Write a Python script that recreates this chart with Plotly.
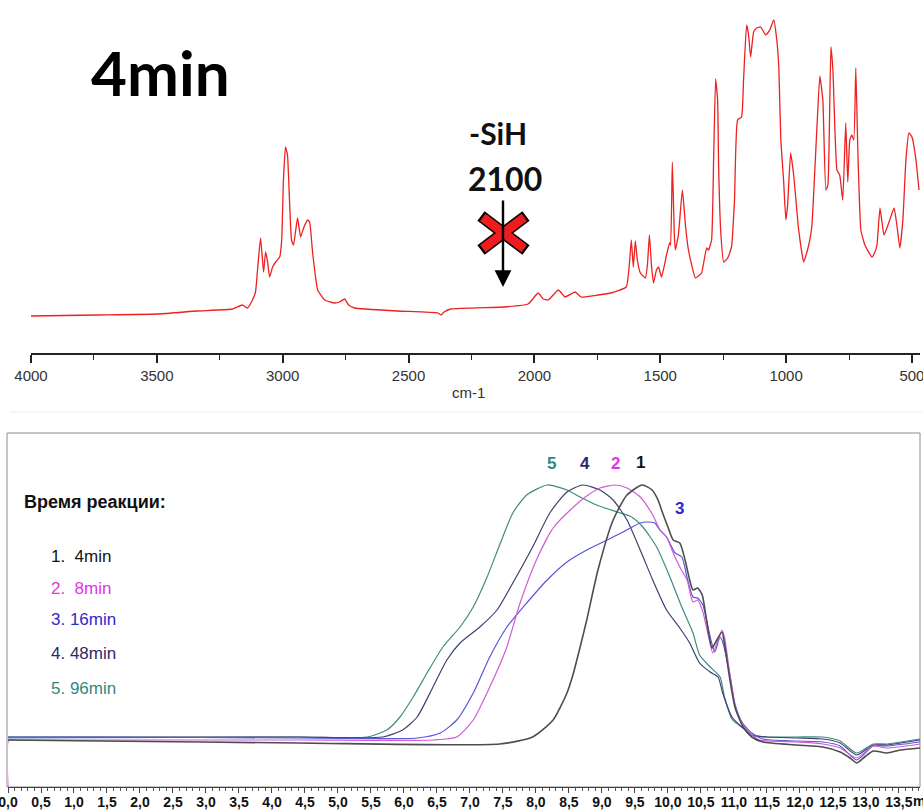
import plotly.graph_objects as go

W, H = 923, 812

# ---------------- IR spectrum (top panel) ----------------
ir_wavenumber = [
    4000, 3737, 3498, 3339, 3200, 3160, 3140, 3120, 3108, 3100,
    3088, 3076, 3068, 3060, 3052, 3040, 3028, 3012, 3004, 2997,
    2989, 2981, 2973, 2965, 2957, 2941, 2929, 2917, 2901, 2893,
    2881, 2861, 2833, 2793, 2774, 2754, 2738, 2714, 2543, 2383,
    2371, 2359, 2332, 2120, 2025, 1985, 1965, 1945, 1905, 1878,
    1838, 1814, 1747, 1695, 1635, 1623, 1615, 1607, 1599, 1591,
    1579, 1559, 1551, 1543, 1535, 1527, 1515, 1507, 1495, 1475,
    1463, 1459, 1452, 1444, 1440, 1428, 1412, 1400, 1388, 1360,
    1336, 1316, 1308, 1296, 1288, 1280, 1272, 1268, 1260, 1248,
    1232, 1217, 1205, 1193, 1177, 1169, 1157, 1149, 1141, 1129,
    1117, 1101, 1081, 1065, 1049, 1037, 1029, 1021, 1010, 1001,
    994, 982, 970, 950, 930, 910, 898, 878, 866, 854,
    842, 834, 822, 814, 798, 787, 775, 763, 755, 747,
    739, 731, 723, 715, 703, 687, 659, 647, 639, 627,
    619, 611, 591, 571, 560, 548, 536, 524, 512, 500,
    484, 472,
]
ir_absorbance = [
    40, 41, 42, 45, 47, 51, 48, 56, 64, 86,
    118, 84, 104, 94, 79, 89, 94, 99, 116, 176,
    209, 201, 156, 116, 111, 138, 119, 128, 136, 134,
    103, 66, 56, 53, 54, 57, 51, 48, 45, 43,
    41, 44, 47, 49, 52, 63, 57, 56, 66, 59,
    64, 59, 61, 63, 69, 91, 116, 89, 115, 96,
    83, 78, 91, 121, 91, 73, 86, 89, 79, 101,
    113, 111, 194, 121, 106, 121, 166, 131, 106, 78,
    83, 108, 106, 116, 196, 277, 256, 189, 126, 94,
    98, 109, 156, 236, 239, 276, 331, 321, 299, 324,
    328, 329, 321, 326, 336, 316, 289, 216, 176, 136,
    151, 203, 181, 126, 94, 111, 129, 226, 280, 256,
    166, 171, 309, 286, 186, 181, 156, 233, 174, 216,
    221, 216, 288, 206, 126, 111, 99, 104, 111, 148,
    134, 121, 134, 148, 131, 108, 136, 196, 223, 219,
    196, 166,
]
ir_ticks = [4000, 3500, 3000, 2500, 2000, 1500, 1000, 500]
ir_tick_labels = ["4000", "3500", "3000", "2500", "2000", "1500", "1000", "500"]
ir_minor_ticks = [3750, 3250, 2750, 2250, 1750, 1250, 750]

# ---------------- GPC traces (bottom panel) ----------------
t1 = [0, 1.39, 4.42, 7.45, 7.95, 8.26, 8.47, 8.56, 8.67, 8.77, 8.94, 9.17, 9.38, 9.61, 9.76,
      9.85, 9.92, 10.00, 10.08, 10.18, 10.26, 10.33, 10.38, 10.45, 10.52, 10.59, 10.67, 10.74,
      10.82, 10.86, 10.94, 11.02, 11.14, 11.27, 11.44, 11.95, 12.35, 12.61, 12.76, 12.86, 12.98,
      13.11, 13.32, 13.52, 13.82]
s1 = [47, 46, 44, 43, 50, 67, 94, 112, 140, 167, 217, 267, 292, 302, 297,
      287, 274, 260, 247, 244, 227, 207, 197, 199, 192, 165, 139, 147,
      155, 142, 107, 79, 60, 50, 45, 42, 40, 35, 29, 24, 30,
      36, 34, 37, 39]

t2 = [0, 0.01, 0.1, 1.39, 4.42, 6.44, 6.80, 7.05, 7.30, 7.45, 7.56, 7.76, 8.02, 8.26, 8.52, 8.77,
      8.97, 9.20, 9.38, 9.58, 9.77, 9.88, 9.98, 10.08, 10.18, 10.29, 10.38, 10.45, 10.53, 10.61,
      10.68, 10.76, 10.82, 10.86, 10.94, 11.02, 11.12, 11.24, 11.39, 11.95, 12.35, 12.61, 12.86,
      13.11, 13.32, 13.82]
s2 = [0, 47, 47, 47, 47, 47, 50, 67, 100, 122, 140, 184, 229, 259, 277, 291,
      299, 302, 299, 290, 272, 257, 250, 234, 220, 207, 185, 187, 175, 152,
      134, 147, 157, 149, 112, 80, 64, 54, 47, 45, 43, 39, 29,
      41, 39, 43]

t3 = [0, 1.39, 4.42, 6.20, 6.55, 6.80, 7.05, 7.30, 7.56, 7.86, 8.17, 8.47, 8.77, 9.08, 9.32,
      9.58, 9.68, 9.80, 9.88, 9.98, 10.11, 10.21, 10.30, 10.38, 10.45, 10.53, 10.64, 10.71,
      10.79, 10.83, 10.94, 11.02, 11.12, 11.27, 11.44, 11.95, 12.35, 12.61, 12.86, 13.11,
      13.32, 13.82]
s3 = [50, 50, 49, 49, 54, 67, 94, 130, 160, 184, 207, 225, 237, 247, 255,
      264, 265, 264, 257, 250, 234, 230, 207, 190, 189, 182, 150, 135,
      150, 145, 112, 82, 65, 54, 48, 46, 45, 41, 27, 41,
      41, 45]

t4 = [0, 1.39, 4.42, 5.68, 5.98, 6.20, 6.44, 6.65, 6.85, 7.15, 7.41, 7.65, 7.95, 8.21, 8.47,
      8.71, 8.97, 9.17, 9.38, 9.58, 9.77, 9.98, 10.18, 10.33, 10.48, 10.64, 10.76, 10.83,
      10.97, 11.12, 11.27, 11.50, 11.95, 12.35, 12.61, 12.86, 13.11, 13.32, 13.82]
s4 = [50, 50, 50, 50, 57, 70, 100, 127, 144, 160, 177, 204, 240, 274, 295,
      302, 297, 287, 267, 237, 207, 177, 159, 144, 124, 115, 110, 94,
      70, 60, 52, 50, 49, 48, 44, 32, 42, 42, 47]

t5 = [0, 4.42, 5.44, 5.74, 5.94, 6.14, 6.35, 6.59, 6.85, 7.05, 7.26, 7.45, 7.65, 7.86, 8.17,
      8.47, 8.67, 8.92, 9.23, 9.45, 9.62, 9.83, 10.03, 10.21, 10.38, 10.48, 10.64, 10.79,
      10.86, 10.98, 11.14, 11.27, 11.50, 11.95, 12.35, 12.61, 12.86, 13.11, 13.32, 13.82]
s5 = [49, 50, 50, 57, 70, 90, 114, 140, 160, 180, 210, 242, 274, 292, 302,
      297, 290, 282, 275, 270, 260, 240, 210, 180, 154, 132, 120, 110,
      89, 67, 59, 52, 50, 50, 50, 46, 34, 43, 43, 48]

series_labels = ["1.\u00a0\u00a04min", "2.\u00a0\u00a08min", "3. 16min", "4. 48min", "5. 96min"]
series_numbers = ["1", "2", "3", "4", "5"]
# position (time, signal) of the number written near each peak
number_time = [9.59, 9.20, 10.17, 8.74, 8.24]
number_signal = [325, 324, 279, 324, 324]

gpc_ticks = [i * 0.5 for i in range(28)]
gpc_tick_labels = [("%.1f" % v).replace(".", ",") for v in gpc_ticks]
gpc_axis_unit = "min"

line_colors = ["#4d4d4d", "#d35ad6", "#5656d8", "#404070", "#3e8c84"]
text_colors = ["#141414", "#e036e0", "#2b2bc8", "#2a2a6a", "#2f8a80"]
line_widths = [1.6, 1.2, 1.2, 1.2, 1.2]


def px(x):
    return x / W


def py(y):
    return 1 - y / H


fig = go.Figure()

fig.add_trace(go.Scatter(x=ir_wavenumber, y=ir_absorbance, mode="lines",
                         line=dict(color="#ee2020", width=1.3, shape="spline", smoothing=0.4),
                         xaxis="x", yaxis="y", showlegend=False, hoverinfo="skip"))

times = [t1, t2, t3, t4, t5]
signals = [s1, s2, s3, s4, s5]
order = [4, 3, 2, 1, 0]
for i in order:
    fig.add_trace(go.Scatter(x=times[i], y=signals[i], mode="lines",
                             line=dict(color=line_colors[i], width=line_widths[i],
                                       shape="spline", smoothing=0.6),
                             xaxis="x2", yaxis="y2", showlegend=False, hoverinfo="skip"))

ann = []
font_main = "Liberation Sans, Arial, sans-serif"
font_cal = "Lato, Open Sans, sans-serif"

ann.append(dict(text="<b>4min</b>", x=px(160), y=py(72), xref="paper", yref="paper",
                showarrow=False, font=dict(family=font_cal, size=62, color="#000"),
                xanchor="center", yanchor="middle"))
ann.append(dict(text="<b>-SiH</b>", x=px(498), y=py(133), xref="paper", yref="paper",
                showarrow=False, font=dict(family=font_cal, size=30, color="#111"),
                xanchor="center", yanchor="middle"))
ann.append(dict(text="<b>2100</b>", x=px(505), y=py(178), xref="paper", yref="paper",
                showarrow=False, font=dict(family=font_cal, size=32, color="#111"),
                xanchor="center", yanchor="middle"))
ann.append(dict(text="", x=px(503), y=py(287), xref="paper", yref="paper",
                showarrow=True, ax=0, ay=-88, axref="pixel", ayref="pixel",
                arrowhead=2, arrowsize=1.4, arrowwidth=2.4, arrowcolor="#000", standoff=0))
ann.append(dict(text="cm-1", x=px(468), y=py(392), xref="paper", yref="paper",
                showarrow=False, font=dict(family=font_main, size=15, color="#333"),
                xanchor="center", yanchor="middle"))
# unit written right after the last time tick label
ann.append(dict(text="<b>%s</b>" % gpc_axis_unit, x=px(911), y=py(801), xref="paper", yref="paper",
                showarrow=False, font=dict(family=font_main, size=14, color="#111"),
                xanchor="left", yanchor="middle"))

ann.append(dict(text="<b>Время реакции:</b>", x=px(22), y=py(502), xref="paper", yref="paper",
                showarrow=False, font=dict(family=font_main, size=18, color="#111"),
                xanchor="left", yanchor="middle"))
legend_y = [556, 588, 619, 653, 688]
for i in range(5):
    ann.append(dict(text=series_labels[i], x=px(49), y=py(legend_y[i]), xref="paper", yref="paper",
                    showarrow=False, font=dict(family=font_main, size=17, color=text_colors[i]),
                    xanchor="left", yanchor="middle"))
    ann.append(dict(text="<b>%s</b>" % series_numbers[i], x=number_time[i], y=number_signal[i],
                    xref="x2", yref="y2", showarrow=False,
                    font=dict(family=font_main, size=17, color=text_colors[i]),
                    xanchor="center", yanchor="middle"))

shapes = []
# faint frame edge of the spectrum picture
shapes.append(dict(type="line", xref="paper", yref="paper", x0=px(10), x1=px(923),
                   y0=py(412), y1=py(412), line=dict(color="#ececec", width=1), layer="below"))
# box around the chromatogram panel
shapes.append(dict(type="rect", xref="paper", yref="paper", x0=px(7), x1=px(920),
                   y0=py(787), y1=py(433), line=dict(color="#8c8c8c", width=1), layer="below"))
# red cross over the arrow
arms = [((481, 216), (526, 250)), ((481, 250), (526, 216))]
for (a, b) in arms:
    shapes.append(dict(type="line", xref="paper", yref="paper", x0=px(a[0]), y0=py(a[1]),
                       x1=px(b[0]), y1=py(b[1]), line=dict(color="#000", width=12)))
for (a, b) in arms:
    dx, dy = (b[0] - a[0]) * 0.04, (b[1] - a[1]) * 0.04
    shapes.append(dict(type="line", xref="paper", yref="paper", x0=px(a[0] + dx), y0=py(a[1] + dy),
                       x1=px(b[0] - dx), y1=py(b[1] - dy), line=dict(color="#ee1c1c", width=9)))

fig.update_layout(
    template="none",
    width=W, height=H, margin=dict(l=0, r=0, t=0, b=0, autoexpand=False),
    paper_bgcolor="white", plot_bgcolor="white",
    xaxis=dict(domain=[px(31), px(920)], range=[4000, 468], anchor="y", automargin=False,
               showline=True, linecolor="#222", linewidth=1.6,
               ticks="outside", ticklen=8, tickwidth=1.5, tickcolor="#222",
               tickmode="array", tickvals=ir_ticks, ticktext=ir_tick_labels,
               ticklabeloverflow="allow", tickangle=0,
               tickfont=dict(family=font_main, size=15, color="#333"),
               minor=dict(tickmode="array", tickvals=ir_minor_ticks, ticks="outside",
                          ticklen=5, tickwidth=1.3, tickcolor="#222", showgrid=False),
               showgrid=False, zeroline=False),
    yaxis=dict(domain=[py(353), 1], range=[3, 356], visible=False, automargin=False),
    xaxis2=dict(domain=[px(8), px(920)], range=[0, 13.82], anchor="y2", automargin=False,
                showline=True, linecolor="#444", linewidth=1.2,
                ticks="outside", ticklen=5, tickwidth=1, tickcolor="#444",
                tickmode="array", tickvals=gpc_ticks, ticktext=gpc_tick_labels,
                ticklabeloverflow="allow", tickangle=0, ticklabelstandoff=-3,
                tickfont=dict(family=font_main, size=14, color="#111", weight="bold"),
                minor=dict(dtick=0.1, tick0=0, ticks="outside", ticklen=3, tickwidth=0.8,
                           tickcolor="#555", showgrid=False),
                showgrid=False, zeroline=False),
    yaxis2=dict(domain=[py(787), py(433)], range=[0, 354], visible=False, automargin=False),
    annotations=ann, shapes=shapes,
)

fig.write_html("out.html")
